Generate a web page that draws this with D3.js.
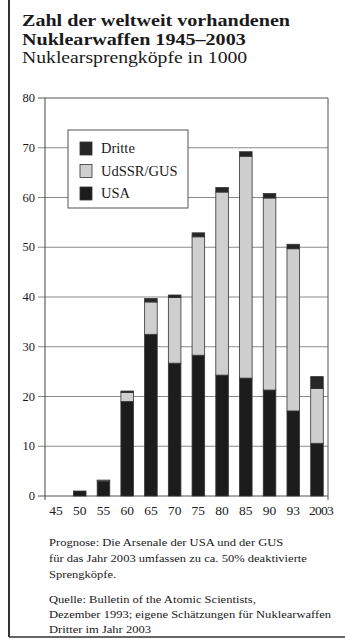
<!DOCTYPE html>
<html><head><meta charset="utf-8">
<script src="https://cdn.jsdelivr.net/npm/d3@7"></script>
<style>
html,body{margin:0;padding:0;background:#fff;}
svg{display:block;}
text{font-family:"Liberation Serif","DejaVu Serif",serif;fill:#1a1a1a;}
</style></head>
<body>
<svg id="chart" width="345" height="639"></svg>
<script>
// ---- data ----
const years = ["45","50","55","60","65","70","75","80","85","90","93","2003"];
const usa    = [0, 1.0, 3.0, 19.0, 32.5, 26.7, 28.3, 24.3, 23.7, 21.3, 17.1, 10.6];
const udssr  = [0, 0, 0.2, 1.8, 6.5, 13.2, 23.8, 36.8, 44.6, 38.6, 32.6, 11.0];
const dritte = [0, 0, 0, 0.3, 0.7, 0.5, 0.8, 0.9, 0.9, 0.9, 0.9, 2.4];
const yTicks = [0,10,20,30,40,50,60,70,80];
const seriesNames = ["Dritte","UdSSR/GUS","USA"];
const titleLines = ["Zahl der weltweit vorhandenen","Nuklearwaffen 1945–2003"];
const subtitle = "Nuklearsprengköpfe in 1000";
const notes1 = ["Prognose: Die Arsenale der USA und der GUS","für das Jahr 2003 umfassen zu ca. 50% deaktivierte","Sprengköpfe."];
const notes2 = ["Quelle: Bulletin of the Atomic Scientists,","Dezember 1993; eigene Schätzungen für Nuklearwaffen","Dritter im Jahr 2003"];

const colors = {"USA":"#1c1c1c","UdSSR/GUS":"#cfcfcf","Dritte":"#262626"};

const svg = d3.select("#chart");

// frame lines
svg.append("line").attr("x1",9).attr("x2",9).attr("y1",0).attr("y2",637).attr("stroke","#333").attr("stroke-width",2);
svg.append("line").attr("x1",9).attr("x2",345).attr("y1",637).attr("y2",637).attr("stroke","#333").attr("stroke-width",1.5);

// titles: common horizontal scale so line 1 spans ~268px
const tg = svg.append("g");
const tl = titleLines.map((t,i)=>tg.append("text").attr("x",0).attr("y",26+i*18.5).text(t)
    .attr("font-size",16).attr("font-weight","bold"));
const st = tg.append("text").attr("x",0).attr("y",63).text(subtitle).attr("font-size",16);
const w1 = tl[0].node().getComputedTextLength();
const k = 268 / w1;
tl.forEach(t=>{ const w=t.node().getComputedTextLength(); t.attr("textLength",w*k).attr("lengthAdjust","spacingAndGlyphs").attr("x",22); });
{ const w=st.node().getComputedTextLength(); st.attr("textLength",Math.min(w*k*0.98,236)).attr("lengthAdjust","spacingAndGlyphs").attr("x",22); }

// scales
const x = d3.scaleBand().domain(years).range([44.15,328.85]).paddingInner(0.47).paddingOuter(0.235);
const y = d3.scaleLinear().domain([0,80]).range([496,98]);

// gridlines
const g = svg.append("g");
yTicks.forEach(v=>{
  g.append("line").attr("x1",38).attr("x2",328).attr("y1",y(v)).attr("y2",y(v))
    .attr("stroke", v===0||v===80 ? "#555" : "#8a8a8a").attr("stroke-width",1);
  g.append("text").attr("x",35).attr("y",y(v)+4).attr("text-anchor","end")
    .attr("font-size",12.5).text(v);
});
g.append("line").attr("x1",45).attr("x2",45).attr("y1",98).attr("y2",500).attr("stroke","#444").attr("stroke-width",1);
g.append("line").attr("x1",328).attr("x2",328).attr("y1",98).attr("y2",500).attr("stroke","#555").attr("stroke-width",1);

// stacked data
const rows = years.map((yr,i)=>({year:yr, "USA":usa[i], "UdSSR/GUS":udssr[i], "Dritte":dritte[i]}));
const stack = d3.stack().keys(["USA","UdSSR/GUS","Dritte"]);
const layers = stack(rows);

layers.forEach(layer=>{
  svg.append("g").selectAll("rect").data(layer.filter(d=>d[1]-d[0]>0)).join("rect")
    .attr("x",d=>x(d.data.year))
    .attr("width",x.bandwidth())
    .attr("y",d=>y(d[1]))
    .attr("height",d=>y(d[0])-y(d[1]))
    .attr("fill",colors[layer.key])
    .attr("stroke","#333").attr("stroke-width",0.8);
});

// x labels
svg.append("g").selectAll("text").data(years).join("text")
  .attr("x",d=>x(d)+x.bandwidth()/2 + (d==="2003"?4:0))
  .attr("y",515).attr("text-anchor","middle").attr("font-size",13.5)
  .attr("letter-spacing",d=>d==="2003"?"-0.8":"0")
  .text(d=>d);

// legend
const lg = svg.append("g");
lg.append("rect").attr("x",68).attr("y",130).attr("width",120).attr("height",78)
  .attr("fill","#fff").attr("stroke","#555").attr("stroke-width",1);
seriesNames.forEach((s,i)=>{
  const yy = 142 + i*22.5;
  lg.append("rect").attr("x",80).attr("y",yy).attr("width",12).attr("height",13)
    .attr("fill",colors[s]).attr("stroke","#333").attr("stroke-width",0.8);
  lg.append("text").attr("x",101).attr("y",yy+11).attr("font-size",14.5).text(s);
});

// notes: same font size, common horizontal scale set by the longest line (~282px)
const ng = svg.append("g");
const noteEls = [];
notes1.forEach((t,i)=>noteEls.push(ng.append("text").attr("x",49).attr("y",546+i*16).attr("font-size",11).text(t)));
notes2.forEach((t,i)=>noteEls.push(ng.append("text").attr("x",49).attr("y",603+i*15).attr("font-size",11).text(t)));
const longest = d3.max(noteEls, e=>e.node().getComputedTextLength());
const kn = 282 / longest;
noteEls.forEach(e=>{ const w=e.node().getComputedTextLength(); e.attr("textLength",w*kn).attr("lengthAdjust","spacingAndGlyphs"); });
</script>
</body></html>
